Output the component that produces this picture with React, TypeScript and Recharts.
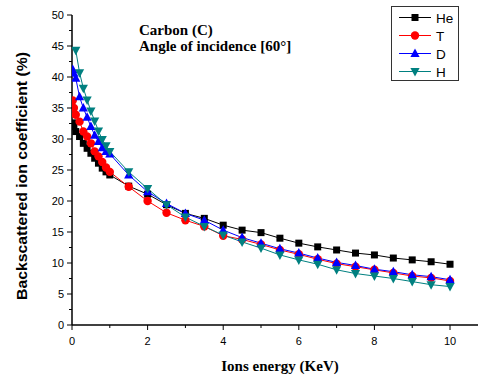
import React from 'react';
import { LineChart, Line, XAxis, YAxis, Legend } from 'recharts';

// Ion energy (KeV) shared by all series
const energy = [0.02, 0.05, 0.1, 0.2, 0.3, 0.4, 0.5, 0.6, 0.7, 0.8, 0.9, 1, 1.5, 2, 2.5, 3, 3.5, 4, 4.5, 5, 5.5, 6, 6.5, 7, 7.5, 8, 8.5, 9, 9.5, 10];

// Backscattered ion coefficient (%) per projectile
const heValues = [32.6, 32.0, 31.2, 30.4, 29.3, 28.5, 27.7, 26.9, 26.1, 25.3, 24.7, 24.2, 22.4, 21.1, 19.4, 18.0, 17.2, 16.1, 15.3, 14.9, 14.0, 13.2, 12.6, 12.1, 11.6, 11.3, 10.8, 10.5, 10.2, 9.8];
const tValues = [36.2, 35.0, 33.9, 32.8, 31.2, 30.4, 29.3, 28.0, 27.2, 26.3, 25.4, 24.7, 22.3, 20.0, 18.1, 16.9, 15.9, 14.4, 13.8, 13.0, 12.1, 11.4, 10.6, 9.9, 9.4, 8.9, 8.4, 7.9, 7.6, 7.1];
const dValues = [41.2, 40.6, 39.8, 36.8, 35.0, 33.5, 32.0, 30.6, 29.6, 28.6, 28.0, 27.6, 24.2, 21.5, 19.6, 18.0, 16.9, 15.3, 14.1, 13.2, 12.3, 11.6, 10.8, 10.1, 9.6, 9.0, 8.6, 8.1, 7.8, 7.3];
const hValues = [null, null, 44.3, 40.7, 38.2, 36.3, 34.5, 32.9, 31.3, 29.9, 28.9, 28.0, 24.7, 22.0, 19.4, 17.4, 15.9, 14.5, 13.4, 12.4, 11.3, 10.5, 9.8, 8.9, 8.3, 7.9, 7.5, 7.0, 6.5, 6.2];

const seriesNames = ['He', 'T', 'D', 'H'];
const seriesColors = ['#000000', '#ff0000', '#0000ff', '#008080'];
const seriesShapes = ['square', 'circle', 'triangle', 'triangleDown'];

const xTicks = [0, 1, 2, 3, 4, 5, 6, 7, 8, 9, 10];
const yTicks = [0, 2.5, 5, 7.5, 10, 12.5, 15, 17.5, 20, 22.5, 25, 27.5, 30, 32.5, 35, 37.5, 40, 42.5, 45, 47.5, 50];

const data = energy.map((e, i) => ({
  energy: e,
  He: heValues[i],
  T: tValues[i],
  D: dValues[i],
  H: hValues[i],
}));

const SANS = '"Liberation Sans", Arial, sans-serif';
const SERIF = '"Liberation Serif", "Times New Roman", serif';

const Marker = ({ cx, cy, shape, color }: any) => {
  if (cx == null || cy == null || isNaN(cy)) return null;
  if (shape === 'square') {
    return <rect x={cx - 3.5} y={cy - 3.5} width={7} height={7} fill={color} />;
  }
  if (shape === 'circle') {
    return <circle cx={cx} cy={cy} r={4.2} fill={color} />;
  }
  if (shape === 'triangle') {
    return <polygon points={`${cx},${cy - 5} ${cx - 4.6},${cy + 3.5} ${cx + 4.6},${cy + 3.5}`} fill={color} />;
  }
  return <polygon points={`${cx - 4.6},${cy - 3.5} ${cx + 4.6},${cy - 3.5} ${cx},${cy + 5}`} fill={color} />;
};

const XTick = ({ x, y, payload }: any) => {
  const major = payload.value % 2 === 0;
  return (
    <g>
      <line x1={x} x2={x} y1={y} y2={y + (major ? 5 : 3)} stroke="#000" strokeWidth={1} />
      {major && (
        <text x={x} y={y + 20} textAnchor="middle" fontSize={11} fontFamily={SANS} fill="#000">
          {payload.value}
        </text>
      )}
    </g>
  );
};

const YTick = ({ x, y, payload }: any) => {
  const major = payload.value % 5 === 0;
  return (
    <g>
      <line x1={x - (major ? 5 : 3)} x2={x} y1={y} y2={y} stroke="#000" strokeWidth={1} />
      {major && (
        <text x={x - 8} y={y + 4} textAnchor="end" fontSize={11} fontFamily={SANS} fill="#000">
          {payload.value}
        </text>
      )}
    </g>
  );
};

const LegendBox = () => (
  <svg width={68} height={75} style={{ display: 'block' }}>
    <rect x={0.5} y={0.5} width={67} height={74} fill="#fff" stroke="#333" strokeWidth={1} />
    {seriesNames.map((name, i) => {
      const cy = 11.5 + i * 18;
      return (
        <g key={name}>
          <line x1={8} x2={40} y1={cy} y2={cy} stroke={seriesColors[i]} strokeWidth={1} />
          <Marker cx={24} cy={cy} shape={seriesShapes[i]} color={seriesColors[i]} />
          <text x={45} y={cy + 5} fontSize={13.5} fontFamily={SANS} fill="#000">
            {name}
          </text>
        </g>
      );
    })}
  </svg>
);

export default function App() {
  return (
    <div style={{ position: 'absolute', left: 0, top: 0, width: 480, height: 376, background: '#fff' }}>
      <LineChart width={480} height={376} data={data} margin={{ top: 15, right: 2, bottom: 21, left: 22 }}>
        <XAxis
          dataKey="energy"
          type="number"
          domain={[0, 10.74]}
          ticks={xTicks}
          interval={0}
          height={30}
          tickSize={0}
          tickMargin={0}
          tickLine={false}
          tick={<XTick />}
          axisLine={{ stroke: '#000', strokeWidth: 1.5 }}
          allowDataOverflow
        />
        <YAxis
          type="number"
          domain={[0, 50]}
          ticks={yTicks}
          interval={0}
          width={50}
          tickSize={0}
          tickMargin={0}
          tickLine={false}
          tick={<YTick />}
          axisLine={{ stroke: '#000', strokeWidth: 1.5 }}
        />
        {seriesNames.map((name, i) => (
          <Line
            key={name}
            dataKey={name}
            stroke={seriesColors[i]}
            strokeWidth={1}
            connectNulls
            isAnimationActive={false}
            dot={(p: any) => <Marker key={`${name}-${p.index}`} cx={p.cx} cy={p.cy} shape={seriesShapes[i]} color={seriesColors[i]} />}
            activeDot={false}
          />
        ))}
        <Legend
          layout="vertical"
          align="center"
          verticalAlign="middle"
          content={<LegendBox />}
          wrapperStyle={{ left: 391, top: 6, width: 68, height: 75 }}
        />
        <text x={139} y={35} fontSize={15} fontWeight="bold" fontFamily={SERIF} fill="#000">
          Carbon (C)
        </text>
        <text x={139} y={51} fontSize={15} fontWeight="bold" fontFamily={SERIF} fill="#000">
          Angle of incidence [60°]
        </text>
        <text x={280} y={371} textAnchor="middle" fontSize={15} fontWeight="bold" fontFamily={SERIF} fill="#000">
          Ions energy (KeV)
        </text>
        <text
          x={27}
          y={176}
          transform="rotate(-90 27 176)"
          textAnchor="middle"
          fontSize={14}
          fontWeight="bold"
          fontFamily={SANS}
          textLength={248}
          lengthAdjust="spacingAndGlyphs"
          fill="#000"
        >
          Backscattered ion coefficient (%)
        </text>
      </LineChart>
    </div>
  );
}
